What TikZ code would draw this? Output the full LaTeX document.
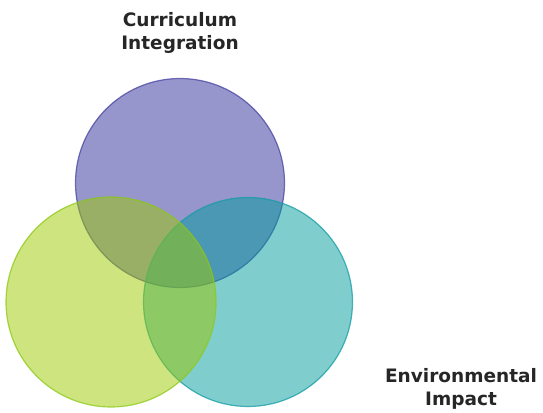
\documentclass[tikz,border=0pt]{standalone}
\usepackage{fontspec}
\setmainfont{DejaVu Sans}
\begin{document}
\begin{tikzpicture}[x=1pt,y=1pt,
  venn/.style={draw, line width=1.2pt, fill opacity=0.5, draw opacity=0.75},
  lbl/.style={font=\bfseries\fontsize{18.5}{23}\selectfont, align=center, text=black!85, inner sep=0pt}]
\useasboundingbox (0,0) rectangle (543,412);
\definecolor{cpurple}{RGB}{45,45,155}
\definecolor{cpurpled}{RGB}{70,65,160}
\definecolor{cteal}{RGB}{0,155,155}
\definecolor{cteald}{RGB}{20,155,165}
\definecolor{cgreen}{RGB}{155,201,0}
\definecolor{cgreend}{RGB}{140,200,20}
\node[venn, circle, minimum size=209pt, fill=cpurple, draw=cpurpled] (p) at (180,229) {};
\node[venn, circle, minimum size=209pt, fill=cteal, draw=cteald] (t) at (248,110) {};
\node[venn, circle, minimum size=210pt, fill=cgreen, draw=cgreend] (g) at (111,110) {};
\node[lbl, anchor=base] (ci) at (180,362) {Curriculum\\Integration};
\node[lbl, anchor=base] (ei) at (461,7) {Environmental\\Impact};
\end{tikzpicture}
\end{document}
